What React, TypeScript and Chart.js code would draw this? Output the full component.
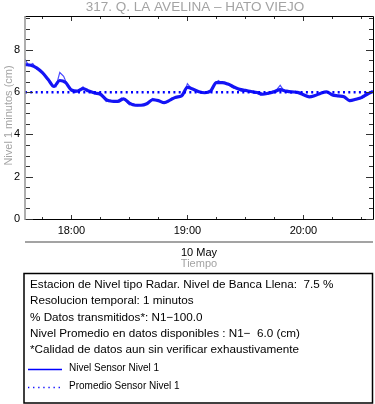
import React, { useEffect, useRef } from "react";
import { Chart, registerables } from "chart.js";

Chart.register(...registerables);

const TITLE = "317. Q. LA AVELINA – HATO VIEJO";
const Y_TITLE = "Nivel 1 minutos (cm)";
const DATE_LABEL = "10 May";
const X_TITLE = "Tiempo";
const INFO_LINES = [
  "Estacion de Nivel tipo Radar. Nivel de Banca Llena:  7.5 %",
  "Resolucion temporal: 1 minutos",
  "% Datos transmitidos*: N1\u2212100.0",
  "Nivel Promedio en datos disponibles : N1\u2212  6.0 (cm)",
  "*Calidad de datos aun sin verificar exhaustivamente",
];
const LEGEND_LABELS = ["Nivel Sensor Nivel 1", "Promedio Sensor Nivel 1"];

// minutes of the day
const X_MIN = 1056; // 17:36
const X_MAX = 1236; // 20:36
const HOUR_TICKS = [1080, 1140, 1200];
const HOUR_LABELS = ["18:00", "19:00", "20:00"];
const Y_MIN = 0;
const Y_MAX = 9.6;
const Y_TICKS = [0, 2, 4, 6, 8];
const AVERAGE = 6.0;

// smoothed level, every 3 minutes from 17:36
const SMOOTH_START = 1056;
const SMOOTH_STEP = 3;
const smoothLevel = [
  7.3, 7.27, 7.15, 6.92, 6.6, 6.27, 6.55, 6.45, 6.1, 6.05, 6.17, 6.05, 5.96,
  5.9, 5.65, 5.57, 5.56, 5.68, 5.48, 5.38, 5.38, 5.45, 5.64, 5.6, 5.5, 5.62,
  5.76, 5.82, 6.22, 6.14, 6.02, 5.97, 6.05, 6.45, 6.45, 6.38, 6.25, 6.13, 6.08,
  6.03, 5.98, 5.9, 5.95, 6.02, 6.12, 6.05, 6.01, 5.99, 5.88, 5.78, 5.84, 5.95,
  6.01, 5.87, 5.82, 5.78, 5.6, 5.66, 5.74, 5.9, 6.03,
];

// raw level, every 2 minutes from 17:36
const RAW_START = 1056;
const RAW_STEP = 2;
const rawLevel = [
  7.55, 7.25, 7.35, 7.1, 7.05, 6.78, 6.55, 6.3, 6.25, 6.93, 6.75, 6.3, 6.05,
  5.98, 6.1, 6.25, 6.02, 6.05, 5.92, 5.98, 5.8, 5.55, 5.62, 5.52, 5.6, 5.72,
  5.62, 5.4, 5.45, 5.35, 5.4, 5.44, 5.52, 5.7, 5.62, 5.55, 5.48, 5.55, 5.72,
  5.7, 5.8, 5.88, 6.4, 6.18, 6.05, 6.0, 5.95, 6.02, 6.08, 6.35, 6.55, 6.42, 6.4,
  6.3, 6.18, 6.15, 6.05, 6.12, 6.0, 6.05, 5.95, 5.85, 5.95, 5.98, 6.05, 6.1,
  6.32, 6.05, 6.08, 5.98, 6.05, 5.95, 5.9, 5.78, 5.75, 5.85, 5.9, 6.0, 6.02,
  5.88, 5.85, 5.8, 5.82, 5.7, 5.55, 5.62, 5.68, 5.7, 5.8, 5.98, 6.05,
];

const FONT = "'Liberation Sans', Arial, Helvetica, sans-serif";
const GRAY = "#a3a3a3";
const BLUE = "#1414f5";

const framePlugin = {
  id: "frame",
  afterDraw(chart: any) {
    const { ctx, chartArea } = chart;
    const { left, right, top, bottom } = chartArea;
    const xs = chart.scales.x;
    const ys = chart.scales.y;
    ctx.save();
    // title
    ctx.fillStyle = GRAY;
    ctx.font = `13.5px ${FONT}`;
    ctx.textAlign = "center";
    ctx.textBaseline = "alphabetic";
    ctx.fillText(TITLE, (left + right) / 2 - 4, 11);

    // frame
    ctx.strokeStyle = "#000";
    ctx.lineWidth = 1;
    ctx.beginPath();
    ctx.moveTo(left, top + 0.5);
    ctx.lineTo(right + 0.5, top + 0.5);
    ctx.lineTo(right + 0.5, bottom + 0.5);
    ctx.lineTo(left, bottom + 0.5);
    ctx.stroke();
    ctx.strokeStyle = "#9a9a9a";
    ctx.lineWidth = 1.6;
    ctx.beginPath();
    ctx.moveTo(left, top);
    ctx.lineTo(left, bottom + 1);
    ctx.stroke();

    // y ticks (inward, both sides)
    ctx.strokeStyle = "#333";
    ctx.lineWidth = 1;
    for (let v = Y_MIN; v <= Y_MAX + 1e-9; v += 0.5) {
      const y = Math.round(ys.getPixelForValue(v)) + 0.5;
      const major = Math.abs(v % 2) < 1e-9;
      const len = major ? 7 : 4;
      ctx.beginPath();
      ctx.moveTo(left + 1, y);
      ctx.lineTo(left + 1 + len, y);
      ctx.moveTo(right, y);
      ctx.lineTo(right - len, y);
      ctx.stroke();
    }
    // x ticks (inward, top and bottom)
    for (let m = 1065; m <= X_MAX; m += 15) {
      const x = Math.round(xs.getPixelForValue(m)) + 0.5;
      const major = m % 60 === 0;
      const len = major ? 4 : 2;
      ctx.beginPath();
      ctx.moveTo(x, bottom);
      ctx.lineTo(x, bottom - len);
      ctx.moveTo(x, top + 1);
      ctx.lineTo(x, top + 1 + len);
      ctx.stroke();
    }

    // y title
    ctx.save();
    ctx.translate(9, (top + bottom) / 2 - 2);
    ctx.rotate(-Math.PI / 2);
    ctx.fillStyle = GRAY;
    ctx.font = `11px ${FONT}`;
    ctx.textAlign = "center";
    ctx.textBaseline = "middle";
    ctx.fillText(Y_TITLE, 0, 0);
    ctx.restore();

    // separator line
    ctx.strokeStyle = GRAY;
    ctx.lineWidth = 2;
    ctx.beginPath();
    ctx.moveTo(left, 242);
    ctx.lineTo(right, 242);
    ctx.stroke();

    ctx.textAlign = "center";
    ctx.textBaseline = "middle";
    ctx.font = `11px ${FONT}`;
    ctx.fillStyle = "#000";
    ctx.fillText(DATE_LABEL, (left + right) / 2, 253);
    ctx.fillStyle = GRAY;
    ctx.fillText(X_TITLE, (left + right) / 2, 264);

    // info box
    ctx.strokeStyle = "#000";
    ctx.lineWidth = 1.5;
    ctx.strokeRect(24, 273.5, 348.5, 129.5);
    ctx.fillStyle = "#000";
    ctx.textAlign = "left";
    ctx.font = `11.7px ${FONT}`;
    INFO_LINES.forEach((t, i) => {
      ctx.fillText(t, 30, 285 + i * 16.2);
    });
    // legend entries
    ctx.font = `10px ${FONT}`;
    ctx.fillText(LEGEND_LABELS[0], 69, 368);
    ctx.fillText(LEGEND_LABELS[1], 69, 386);
    ctx.strokeStyle = "#0000ff";
    ctx.lineWidth = 1.3;
    ctx.beginPath();
    ctx.moveTo(28, 369.5);
    ctx.lineTo(62, 369.5);
    ctx.stroke();
    ctx.setLineDash([1.3, 3.8]);
    ctx.beginPath();
    ctx.moveTo(28, 387.5);
    ctx.lineTo(62, 387.5);
    ctx.stroke();
    ctx.restore();
  },
};

export default function App() {
  const ref = useRef<HTMLCanvasElement | null>(null);
  useEffect(() => {
    if (!ref.current) return;
    const smooth = smoothLevel.map((v, i) => ({ x: SMOOTH_START + i * SMOOTH_STEP, y: v }));
    const raw = rawLevel.map((v, i) => ({ x: RAW_START + i * RAW_STEP, y: v }));
    const avg = [
      { x: X_MIN, y: AVERAGE },
      { x: X_MAX, y: AVERAGE },
    ];
    const chart = new Chart(ref.current, {
      type: "line",
      data: {
        datasets: [
          {
            label: "Promedio",
            data: avg,
            borderColor: "#0000ff",
            borderWidth: 2.5,
            borderDash: [2, 3.3],
            pointRadius: 0,
            order: 0,
          },
          {
            label: "Nivel suavizado",
            data: smooth,
            borderColor: BLUE,
            borderWidth: 3.2,
            pointRadius: 0,
            tension: 0.4,
            cubicInterpolationMode: "monotone",
            order: 1,
          },
          {
            label: "Nivel",
            data: raw,
            borderColor: "#4a4aff",
            borderWidth: 1.2,
            pointRadius: 0,
            tension: 0,
            order: 2,
          },
        ],
      },
      options: {
        animation: false,
        responsive: false,
        maintainAspectRatio: false,
        layout: { padding: { left: 0, right: 2, top: 16, bottom: 0 } },
        plugins: {
          legend: { display: false },
          tooltip: { enabled: false },
          title: { display: false },
        },
        scales: {
          x: {
            type: "linear",
            min: X_MIN,
            max: X_MAX,
            grid: { display: false, drawTicks: false },
            border: { display: false },
            afterBuildTicks: (s: any) => {
              s.ticks = HOUR_TICKS.map((v) => ({ value: v }));
            },
            afterFit: (s: any) => {
              s.height = 185;
            },
            ticks: {
              autoSkip: false,
              maxRotation: 0,
              padding: 5,
              color: "#000",
              font: { family: FONT, size: 11 },
              callback: (v: any) => {
                const i = HOUR_TICKS.indexOf(Number(v));
                return i >= 0 ? HOUR_LABELS[i] : "";
              },
            },
          },
          y: {
            type: "linear",
            min: Y_MIN,
            max: Y_MAX,
            grid: { display: false, drawTicks: false },
            border: { display: false },
            afterBuildTicks: (s: any) => {
              s.ticks = Y_TICKS.map((v) => ({ value: v }));
            },
            afterFit: (s: any) => {
              s.width = 25;
            },
            ticks: {
              padding: 5,
              color: "#000",
              font: { family: FONT, size: 11 },
              callback: (v: any) => String(v),
            },
          },
        },
      },
      plugins: [framePlugin],
    });
    return () => chart.destroy();
  }, []);
  return (
    <div style={{ position: "fixed", left: 0, top: 0, width: 375, height: 404, background: "#fff" }}>
      <canvas ref={ref} width={375} height={404} style={{ width: 375, height: 404, display: "block" }} />
    </div>
  );
}
